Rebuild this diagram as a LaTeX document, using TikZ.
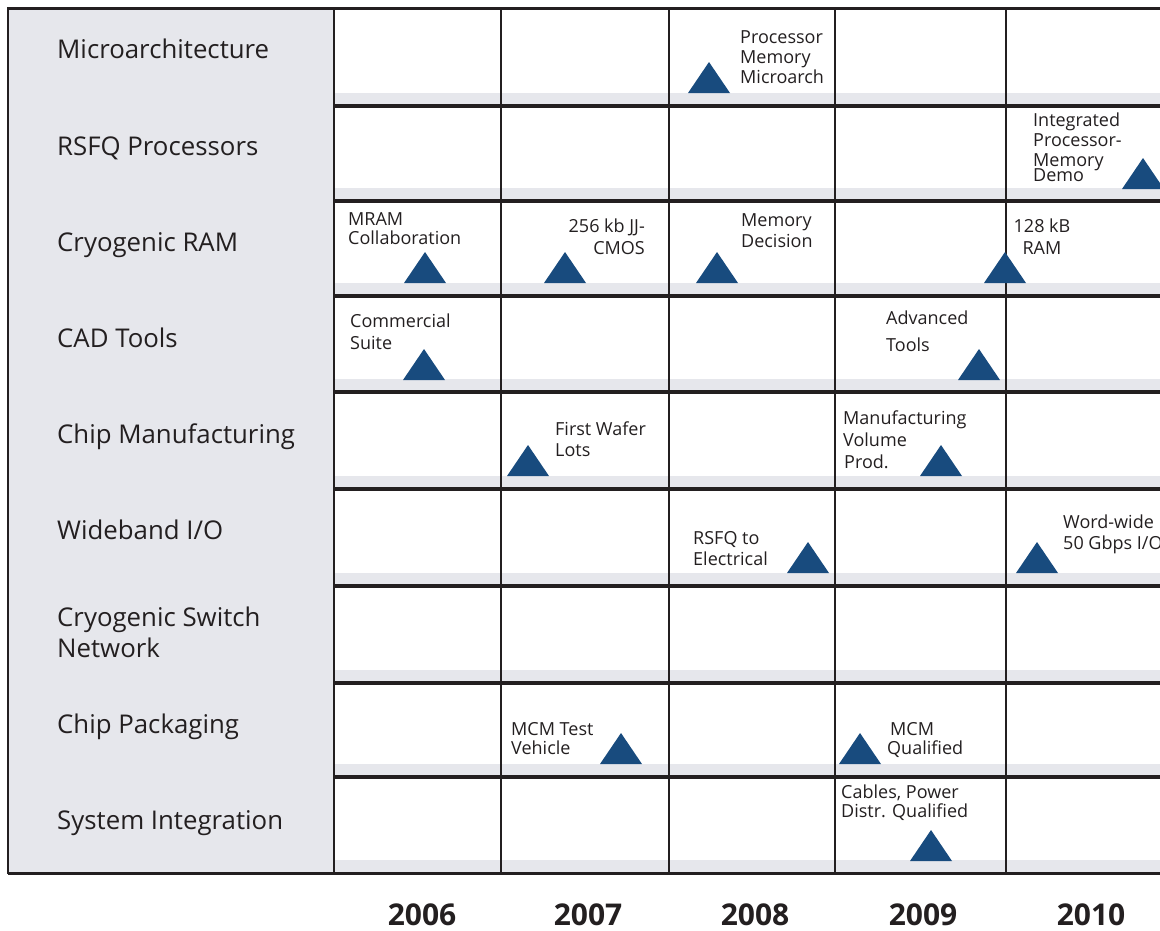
\documentclass[tikz,border=0pt]{standalone}
\usepackage{fontspec}
\setmainfont{Open Sans}

\definecolor{panelgray}{RGB}{230,231,236}
\definecolor{mileblue}{RGB}{24,75,126}
\definecolor{inkgray}{RGB}{35,31,32}

% milestone triangle: apex x, base y
\newcommand{\milestone}[2]{\fill[mileblue] (#1-21,#2) -- (#1,#2-31) -- (#1+21,#2) -- cycle;}

\begin{document}
\begin{tikzpicture}[x=1pt, y=-1pt, color=inkgray,
    rowlabel/.style={font=\fontsize{25.8}{31}\selectfont, inner sep=0, anchor=base west, align=left},
    note/.style={font=\fontsize{18}{20}\selectfont, inner sep=0, anchor=north west, align=left},
    year/.style={font=\fontsize{30}{36}\selectfont\bfseries, inner sep=0, anchor=base}]
    \useasboundingbox (0,0) rectangle (1160,930);
    \clip (0,0) rectangle (1160,930);

    % grey strip at the foot of each row
    \foreach \y in {106,201,296,392,489,586,683,777,873}
        \fill[panelgray] (334,\y-13.5) rectangle (1160,\y);

    % label panel
    \draw[fill=panelgray, line width=2.5pt] (8,8) rectangle (334,873);

    % year columns
    \foreach \x in {501,669,835,1006}
        \draw[line width=2pt] (\x,8) -- (\x,873);

    % row lines
    \foreach \y in {106,201,296,392,489,586,683,777}
        \draw[line width=3.5pt] (334,\y) -- (1160,\y);
    \draw[line width=3pt] (8,8) -- (1160,8);
    \draw[line width=3pt] (8,873) -- (1160,873);

    % row labels
    \node[rowlabel] (micro) at (57,58) {Microarchitecture};
    \node[rowlabel] (rsfq) at (57,155) {RSFQ Processors};
    \node[rowlabel] (cryoram) at (57,251) {Cryogenic RAM};
    \node[rowlabel] (cad) at (57,347) {CAD Tools};
    \node[rowlabel] (chipman) at (57,443) {Chip Manufacturing};
    \node[rowlabel] (wideio) at (57,539) {Wideband I/O};
    \node[rowlabel, anchor=north west] (switch) at (57,607) {Cryogenic Switch\\Network};
    \node[rowlabel] (chippack) at (57,733) {Chip Packaging};
    \node[rowlabel] (sysint) at (57,829) {System Integration};

    % Microarchitecture
    \milestone{709}{93}
    \node[note] (procmem) at (740,30) {Processor\\Memory\\Microarch};

    % RSFQ Processors
    \milestone{1143}{189}
    \node[note] (demo) at (1033,113) {Integrated\\Processor-\\Memory\\[-5pt]Demo};

    % Cryogenic RAM
    \milestone{425}{283}
    \node[note] (mram) at (348,212) {MRAM\\[-1pt]Collaboration};
    \milestone{565}{283}
    \node[note, anchor=north east, align=right] (jjcmos) at (645,219) {256 kb JJ-\\[2pt]CMOS};
    \milestone{717}{283}
    \node[note] (memdec) at (741,213) {Memory\\[1pt]Decision};
    \milestone{1005}{283}
    \node[note, anchor=north, align=center] (ram) at (1042,219) {128 kB\\[2pt]RAM};

    % CAD Tools
    \milestone{424}{380}
    \node[note] (suite) at (350,314) {Commercial\\[2pt]Suite};
    \milestone{979}{380}
    \node[note] (advtools) at (886,311) {Advanced\\[7pt]Tools};

    % Chip Manufacturing
    \milestone{528}{476}
    \node[note] (wafer) at (555,422) {First Wafer\\[1pt]Lots};
    \milestone{941}{476}
    \node[note] (volume) at (843,411) {Manufacturing\\[2pt]Volume\\[2pt]\hspace{1pt}Prod.};

    % Wideband I/O
    \milestone{808}{573}
    \node[note] (electrical) at (693,531) {RSFQ to\\[1pt]Electrical};
    \milestone{1037}{573}
    \node[note] (wordwide) at (1063,515) {Word-wide\\[1pt]50 Gbps I/O};

    % Chip Packaging
    \milestone{621}{764}
    \node[note] (mcmtest) at (511,722) {MCM Test\\[-1pt]Vehicle};
    \milestone{860}{764}
    \node[note] (mcmqual) at (887,722) {\hspace{3pt}MCM\\[-1pt]Qualified};

    % System Integration
    \milestone{931}{861}
    \node[note] (cables) at (841,785) {Cables, Power\\[-1pt]Distr. Qualified};

    % years
    \node[year] (y2006) at (422,925) {2006};
    \node[year] (y2007) at (588,925) {2007};
    \node[year] (y2008) at (755,925) {2008};
    \node[year] (y2009) at (923,925) {2009};
    \node[year] (y2010) at (1091,925) {2010};
\end{tikzpicture}
\end{document}
